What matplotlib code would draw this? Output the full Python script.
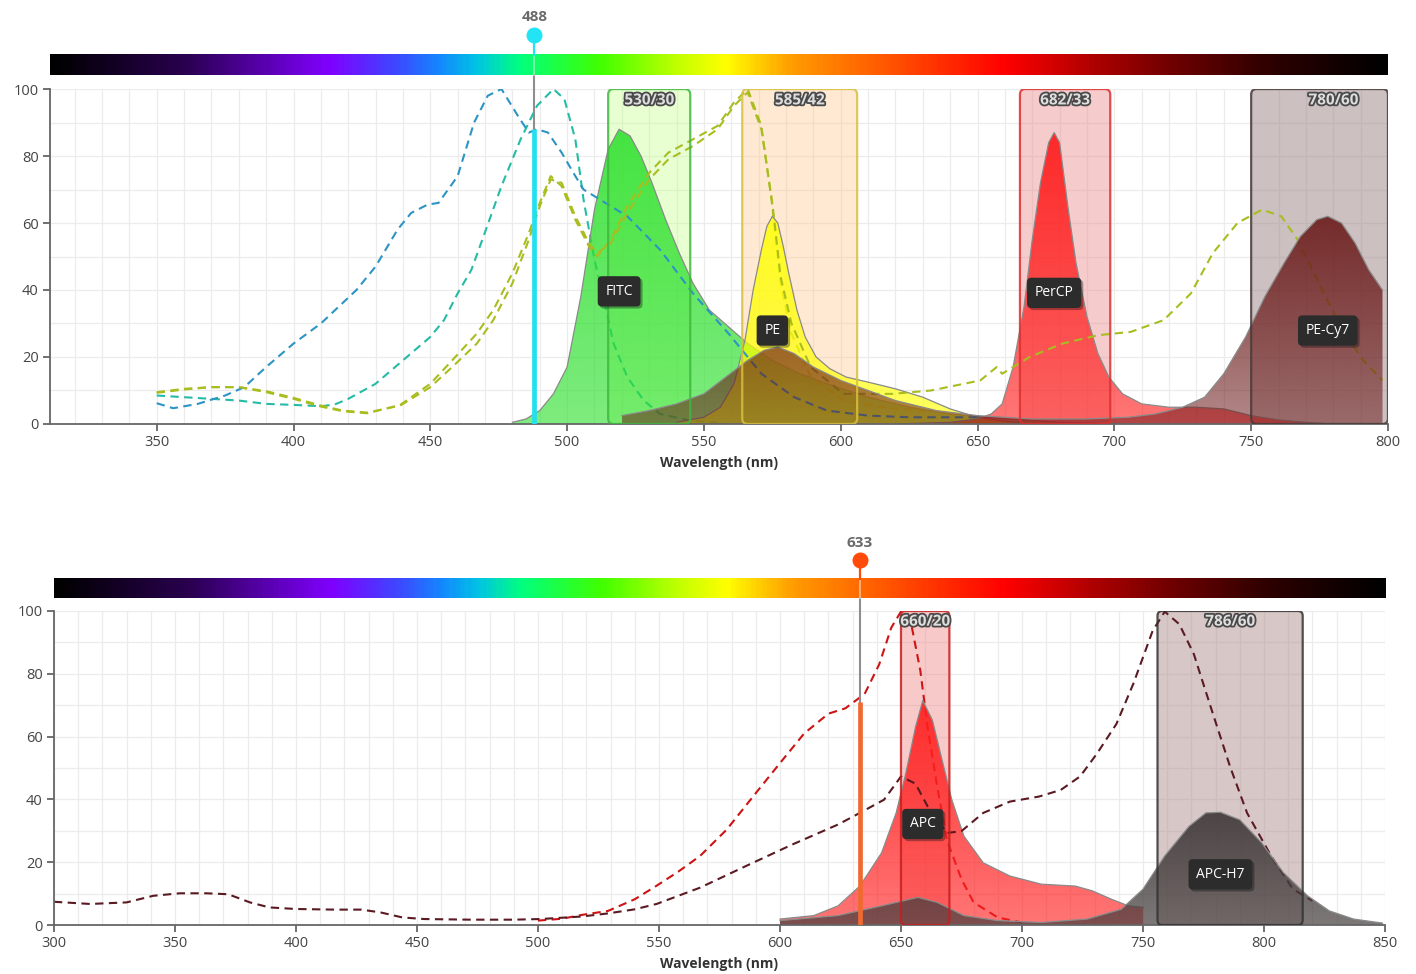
import matplotlib
matplotlib.use("Agg")

import matplotlib.pyplot as plt
import matplotlib.patheffects as pe
import numpy as np
from matplotlib.colors import LinearSegmentedColormap, to_rgba, to_rgb
from matplotlib.patches import FancyBboxPatch


# ---- top panel: 488 nm laser ----

FITC_EM_X = [480, 485, 490, 495, 500, 505, 510, 515, 519, 523, 527, 531, 536, 541, 546,
             552, 559, 566, 575, 585, 595, 610, 625, 640, 660, 680, 700]
FITC_EM_Y = [0.5, 1.5, 4, 9, 17, 38, 64, 82, 88, 86, 80, 72, 61, 51, 42,
             34, 29, 24, 19, 15, 12, 8, 5, 3, 1.5, 0.5, 0]

PE_EM_X = [540, 550, 556, 561, 565, 568, 571, 573, 575, 577, 579, 581, 584, 587, 591,
           596, 602, 610, 620, 630, 640, 650, 660, 670]
PE_EM_Y = [0.5, 2, 5, 12, 25, 40, 52, 59, 62, 60, 53, 45, 34, 26, 20,
           16.5, 14, 12.5, 10.5, 8, 4.5, 2, 0.8, 0]

PERCP_EM_X = [620, 640, 650, 655, 659, 663, 667, 670, 673, 676, 678, 680, 683, 686, 690,
              694, 698, 703, 710, 720, 730, 740, 750, 760, 770, 780]
PERCP_EM_Y = [0, 0.5, 1.5, 3, 6, 17, 35, 55, 72, 84, 87, 84, 65, 48, 32,
              21, 14, 9, 6, 5, 5, 4.5, 2.5, 1.2, 0.5, 0]

PECY7_EM_X = [520, 530, 540, 550, 558, 566, 572, 577, 583, 590, 600, 610, 620, 635, 650,
              670, 690, 705, 715, 725, 733, 740, 748, 755, 762, 768, 774, 778, 783, 788,
              793, 798]
PECY7_EM_Y = [2.5, 4, 6, 9, 14, 19, 22, 23, 21, 17, 13, 10, 7, 4, 2.5,
              1.5, 1.5, 2, 3, 5, 8, 15, 26, 38, 48, 56, 61, 62, 60, 54,
              46, 40]

FITC_EX_X = [350, 360, 370, 380, 390, 400, 410, 415, 420, 430, 440, 450, 455, 460, 465,
             469, 476, 483, 489, 495, 499, 503, 506, 510, 514, 517, 522, 528, 534, 545, 555]
FITC_EX_Y = [8.5, 8, 7.5, 7, 6, 5.7, 5.3, 5.8, 7.5, 12, 19, 26, 31, 39, 46,
             55, 71, 85, 95, 100, 97, 85, 67, 49, 35, 24, 14, 7, 3, 1, 0.5]

PERCP_EX_X = [350, 356, 365, 375, 382, 390, 400, 410, 423, 430, 438, 443, 449, 453, 460,
              466, 471, 476, 482, 486, 489, 493, 498, 503, 506, 510, 516, 522, 534, 546,
              559, 571, 583, 595, 610, 625, 640, 650]
PERCP_EX_Y = [6.2, 4.7, 6, 8.5, 11, 17, 24, 30, 40, 47, 58, 63, 65.5, 66, 74,
              90, 98, 100, 92, 87, 88, 87, 81, 74, 70, 68, 65, 62, 52, 39,
              27, 15, 8, 4, 2.5, 2, 2, 2]

PE_EX_X = [350, 360, 370, 380, 390, 400, 410, 418, 427, 439, 450, 458, 467, 473, 480,
           486, 490, 494, 498, 503, 508, 511, 516, 522, 530, 537, 546, 555, 561, 566,
           571, 575, 578, 582, 589, 601, 615, 630]
PE_EX_Y = [9.5, 10.5, 11, 11, 9.5, 7.5, 5.2, 3.8, 3.2, 5.7, 12, 19, 27, 34, 45,
           57, 66, 74, 71, 61, 53, 50, 55, 65, 75, 81, 85, 89, 96, 100,
           89, 65, 42, 27, 14, 7, 5, 4]

PECY7_EX_X = [350, 360, 370, 380, 390, 400, 410, 418, 427, 439, 450, 458, 467, 473, 480,
              486, 490, 494, 498, 503, 508, 511, 516, 522, 530, 537, 546, 555, 561, 566,
              571, 575, 578, 582, 589, 601, 619, 633, 645, 651, 657, 659, 661, 669, 681,
              694, 706, 718, 728, 736, 745, 754, 761, 767, 773, 779, 785, 791, 798]
PECY7_EX_Y = [9.3, 10.3, 11, 11, 9.8, 7.8, 5.5, 4, 3.4, 5.5, 11, 17, 24, 31, 42,
              55, 65, 73, 72, 62, 54, 51, 54, 63, 73, 79, 83, 88, 95, 99,
              88, 66, 44, 30, 17, 9, 9, 10, 12, 13, 17, 15, 16, 20, 24,
              26.5, 27.5, 31, 39, 51, 60, 64, 62, 55, 45, 35, 26, 19, 13]

TOP_DYES = ["FITC", "PE", "PerCP", "PE-Cy7"]
TOP_FILTER_CENTERS = [530, 585, 682, 780]
TOP_FILTER_WIDTHS = [30, 42, 33, 60]
TOP_LASER = 488
TOP_LASER_BEAM = 88
TOP_XTICKS = [350, 400, 450, 500, 550, 600, 650, 700, 750, 800]

# ---- bottom panel: 633 nm laser ----

APC_EM_X = [600, 614, 624, 633, 642, 648, 652, 656, 659, 663, 667, 671, 676, 684, 695,
            708, 722, 729, 737, 744, 750]
APC_EM_Y = [1.9, 3, 6.1, 12.4, 23, 35.7, 48.3, 63, 71.5, 65.2, 52.5, 39.9, 28.3, 19.8, 15.6,
            13, 12.4, 10.9, 8.2, 6.1, 5.6]

APCH7_EM_X = [600, 624, 642, 657, 665, 676, 690, 708, 727, 741, 750, 759, 769, 776, 782,
              790, 799, 808, 818, 827, 837, 849]
APCH7_EM_Y = [1.4, 3, 6.1, 8.8, 7.2, 3, 1.4, 0.8, 1.9, 5, 11.4, 22, 31.4, 35.7, 35.9,
              33.5, 26.2, 16.7, 9.3, 4.5, 1.9, 0.6]

APC_EX_X = [500, 510, 518, 529, 540, 549, 558, 567, 578, 590, 601, 610, 620, 627, 635,
            641, 646, 650, 654, 658, 661, 665, 669, 675, 680, 690, 700]
APC_EX_Y = [1.4, 2, 3.2, 4.5, 8.2, 12.5, 17, 22, 30.4, 42, 52.5, 61, 67.3, 69, 73.6,
            83, 94.7, 99.8, 96.8, 81, 63, 44, 27, 14.6, 7.2, 2.4, 0.8]

APCH7_EX_X = [300, 315, 330, 341, 352, 363, 372, 381, 389, 400, 416, 427, 435, 444, 453,
              472, 490, 501, 518, 529, 540, 549, 567, 586, 605, 624, 633, 643, 650, 656,
              661, 669, 675, 684, 695, 707, 716, 724, 731, 739, 746, 754, 759, 765, 771,
              778, 786, 793, 803, 812, 820]
APCH7_EX_Y = [7.4, 6.7, 7.2, 9.3, 10.1, 10.1, 9.8, 7.2, 5.6, 5.1, 4.9, 4.9, 4, 2.4, 1.9,
              1.7, 1.7, 1.9, 2.7, 3.7, 5, 6.7, 11.9, 18.8, 25.6, 32, 35.7, 39.9, 47.3, 45,
              37.8, 29.3, 29.9, 35.7, 39.3, 40.9, 43, 47.3, 54.6, 64, 76.8, 93.7, 99.8, 95.8, 86.3,
              69.4, 50.4, 35.7, 21.9, 11.4, 7.7]

BOTTOM_DYES = ["APC", "APC-H7"]
BOTTOM_FILTER_CENTERS = [660, 786]
BOTTOM_FILTER_WIDTHS = [20, 60]
BOTTOM_LASER = 633
BOTTOM_LASER_BEAM = 71
BOTTOM_XTICKS = [300, 350, 400, 450, 500, 550, 600, 650, 700, 750, 800, 850]


SPECTRUM = LinearSegmentedColormap.from_list("spectrum", [
    (0.0, "#000000"), (0.10, "#2a0050"), (0.207, "#8000ff"), (0.26, "#3a4cff"),
    (0.29, "#1488ff"), (0.318, "#00c4e4"), (0.35, "#00ff80"), (0.41, "#40ff00"),
    (0.47, "#c4ff00"), (0.505, "#ffff00"), (0.555, "#ff9c00"), (0.64, "#ff4800"),
    (0.715, "#ff0000"), (0.78, "#b00000"), (0.84, "#700000"), (0.91, "#300000"),
    (1.0, "#000000"),
])

plt.rcParams["font.family"] = ["Open Sans", "DejaVu Sans"]


def gradient_fill(ax, wx, wy, color, a_low, a_high, z):
    # colour gets more opaque towards the peak of the curve
    poly = ax.fill_between(wx, 0, wy, facecolor="none", edgecolor="none", zorder=z)
    rgba = np.zeros((256, 1, 4))
    rgba[:, 0, :3] = to_rgb(color)
    rgba[:, 0, 3] = np.linspace(a_low, a_high, 256)
    im = ax.imshow(rgba, extent=(min(wx), max(wx), 0, max(wy)), origin="lower",
                   aspect="auto", zorder=z, interpolation="bilinear")
    im.set_clip_path(poly.get_paths()[0], transform=ax.transData)
    ax.plot(wx, wy, color="#8a8a8a", lw=0.9, zorder=z + 0.01)


def draw_panel(ax, xlim, xticks, dyes, filters, laser, aspect):
    x0, x1 = xlim
    lx, beam, lcolor, beam_color = laser

    # ticks first so the limits set afterwards are kept
    ax.set_xticks(xticks)
    ax.set_xticks(np.arange(np.ceil(x0 / 10) * 10, x1 + 1, 10), minor=True)
    ax.set_yticks(range(0, 101, 20))
    ax.set_yticks(range(0, 101, 10), minor=True)

    # spectrum strip above the plot
    ax.imshow(np.linspace(0, 1, 600)[None, :], cmap=SPECTRUM, aspect="auto",
              extent=(x0, x1, 104.2, 110.3), clip_on=False, zorder=1,
              interpolation="bilinear")

    for center, width, face, edge, falpha in filters:
        lo = max(center - width / 2, x0)
        hi = min(center + width / 2, x1)
        # filter face sits under the spectra, outline on top
        ax.add_patch(FancyBboxPatch(
            (lo, 0), hi - lo, 100,
            boxstyle="round,pad=0,rounding_size=2",
            mutation_aspect=aspect,
            facecolor=to_rgba(face, falpha),
            edgecolor="none",
            zorder=1.5
        ))
        ax.add_patch(FancyBboxPatch(
            (lo, 0), hi - lo, 100,
            boxstyle="round,pad=0,rounding_size=2",
            mutation_aspect=aspect,
            fill=False,
            edgecolor=to_rgba(edge, 0.85),
            lw=1.6,
            zorder=4
        ))
        ax.text(center, 96.6, f"{center}/{width}", ha="center", va="center",
                fontsize=11, fontweight="bold", color="#dedede", zorder=7,
                path_effects=[pe.withStroke(linewidth=2.6, foreground="#4a4a4a")])

    # each dye: excitation line, then its emission on top of it
    for k, (name, ex_x, ex_y, ex_c, em_x, em_y, em_c, a_low, a_high) in enumerate(dyes):
        z = 2 + 0.1 * k
        ax.plot(ex_x, ex_y, color=ex_c, lw=1.5, dashes=(4, 2.6), zorder=z)
        gradient_fill(ax, em_x, em_y, em_c, a_low, a_high, z + 0.05)

    # dye name tags
    for name, ex_x, ex_y, ex_c, em_x, em_y, em_c, a_low, a_high in dyes:
        i = int(np.argmax(em_y))
        t = ax.text(em_x[i], 0.45 * em_y[i], name, ha="center", va="center",
                    fontsize=10, color="white", zorder=8,
                    bbox=dict(boxstyle="round,pad=0.55,rounding_size=0.3",
                              fc="#2c2c2c", ec="none"))
        t.get_bbox_patch().set_path_effects(
            [pe.SimplePatchShadow(offset=(1.5, -1.5), alpha=0.35), pe.Normal()])

    # laser line
    ax.plot([lx, lx], [0, beam], color=beam_color, lw=3.4, zorder=5,
            solid_capstyle="butt")
    ax.plot([lx, lx], [beam, 104.2], color="#8e8e8e", lw=1.5, zorder=4.9,
            clip_on=False)
    ax.plot([lx, lx], [104.2, 110.3], color="white", alpha=0.45, lw=1.5,
            zorder=5, clip_on=False)
    ax.plot([lx, lx], [110.3, 116.1], color=lcolor, lw=1.6, zorder=5,
            clip_on=False)
    ax.plot([lx], [116.1], "o", ms=10.5, color=lcolor, zorder=6, clip_on=False)
    ax.text(lx, 121.6, str(lx), ha="center", va="center", fontsize=11,
            fontweight="bold", color="#6a6a6a")

    ax.set_xlim(x0, x1)
    ax.set_ylim(0, 100)
    ax.set_axisbelow(True)
    ax.grid(True, which="both", color="#ececec", lw=0.9)
    ax.tick_params(which="major", length=5, width=1.3, color="#666666",
                   labelsize=10.5, labelcolor="#444444", pad=3)
    ax.tick_params(which="minor", length=0)
    for side in ("top", "right"):
        ax.spines[side].set_visible(False)
    for side in ("left", "bottom"):
        ax.spines[side].set_color("#666666")
        ax.spines[side].set_linewidth(1.3)
    ax.set_xlabel("Wavelength (nm)", fontsize=10, fontweight="bold",
                  color="#333333", labelpad=4)


fig = plt.figure(figsize=(14.16, 9.74), dpi=100, facecolor="white")

ax_top = fig.add_axes([0.0353, 0.5647, 0.9449, 0.3439])
draw_panel(
    ax_top,
    (311, 800),
    TOP_XTICKS,
    [
        (TOP_DYES[0], FITC_EX_X, FITC_EX_Y, "#26bba6",
         FITC_EM_X, FITC_EM_Y, "#2ee02e", 0.62, 0.88),
        (TOP_DYES[1], PE_EX_X, PE_EX_Y, "#a9bd1f",
         PE_EM_X, PE_EM_Y, "#ffff00", 0.62, 0.85),
        (TOP_DYES[2], PERCP_EX_X, PERCP_EX_Y, "#2d94c4",
         PERCP_EM_X, PERCP_EM_Y, "#ff1a1a", 0.6, 0.92),
        (TOP_DYES[3], PECY7_EX_X, PECY7_EX_Y, "#a9bd1f",
         PECY7_EM_X, PECY7_EM_Y, "#6b1a1a", 0.52, 0.9),
    ],
    [
        (TOP_FILTER_CENTERS[0], TOP_FILTER_WIDTHS[0], "#c4ff8c", "#3fb83f", 0.4),
        (TOP_FILTER_CENTERS[1], TOP_FILTER_WIDTHS[1], "#ffc890", "#d8c040", 0.4),
        (TOP_FILTER_CENTERS[2], TOP_FILTER_WIDTHS[2], "#ec8c8c", "#dd3030", 0.45),
        (TOP_FILTER_CENTERS[3], TOP_FILTER_WIDTHS[3], "#9a8282", "#4a3a3a", 0.5),
    ],
    (TOP_LASER, TOP_LASER_BEAM, "#22e4f4", "#22e0f0"),
    0.818
)

ax_bot = fig.add_axes([0.0381, 0.0503, 0.9400, 0.3224])
draw_panel(
    ax_bot,
    (300, 850),
    BOTTOM_XTICKS,
    [
        (BOTTOM_DYES[0], APC_EX_X, APC_EX_Y, "#cc1414",
         APC_EM_X, APC_EM_Y, "#ff2020", 0.62, 0.93),
        (BOTTOM_DYES[1], APCH7_EX_X, APCH7_EX_Y, "#5a1a22",
         APCH7_EM_X, APCH7_EM_Y, "#453e3e", 0.7, 0.95),
    ],
    [
        (BOTTOM_FILTER_CENTERS[0], BOTTOM_FILTER_WIDTHS[0], "#f08888", "#c81e1e", 0.45),
        (BOTTOM_FILTER_CENTERS[1], BOTTOM_FILTER_WIDTHS[1], "#b09090", "#333333", 0.5),
    ],
    (BOTTOM_LASER, BOTTOM_LASER_BEAM, "#ff4a0a", "#f06a30"),
    0.77
)

fig.savefig("out.png", dpi=100, facecolor="white")
plt.close(fig)
